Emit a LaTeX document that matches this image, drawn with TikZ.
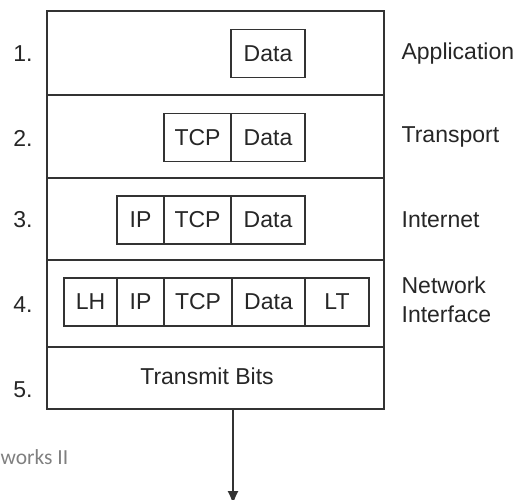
\documentclass[tikz,border=0pt]{standalone}
\usepackage{fontspec}
\setmainfont{Liberation Sans}
\newfontfamily\footfont{Carlito}
\usetikzlibrary{arrows.meta}

\begin{document}
\begin{tikzpicture}
  [x=1pt,y=-1pt,line width=1.2pt,draw=black!80,text=black!85,
   layer/.style={draw,rectangle,minimum width=337pt,inner sep=0pt},
   cell/.style={draw,rectangle,minimum height=48pt,inner sep=0pt,font=\fontsize{23}{27}\selectfont},
   num/.style={inner sep=0pt,font=\fontsize{23}{27}\selectfont},
   lbl/.style={anchor=west,align=left,inner sep=0pt,font=\fontsize{23}{29}\selectfont}]
  \useasboundingbox (0,0) rectangle (516,499);

  % layers of the stack
  \node[layer,minimum height=84pt] (app) at (215.5,53) {};
  \node[layer,minimum height=83pt] (trans) at (215.5,136.5) {};
  \node[layer,minimum height=82pt] (inet) at (215.5,219) {};
  \node[layer,minimum height=87pt] (netif) at (215.5,303.5) {};
  \node[layer,minimum height=62pt] (phys) at (215.5,378) {};
  \node[num] (bits) at (207,376) {Transmit Bits};

  % header / data cells
  \foreach \name/\x/\y/\w/\txt in {d1/268/53.5/74/Data,
      t2/197.5/137.5/67/TCP,d2/268/137.5/74/Data,
      i3/140.5/220/47/IP,t3/197.5/220/67/TCP,d3/268/220/74/Data,
      lh4/90.5/302/53/LH,i4/140.5/302/47/IP,t4/198/302/68/TCP,d4/268.5/302/73/Data,lt4/337/302/64/LT}
    \node[cell,minimum width=\w pt] (\name) at (\x,\y) {\txt};

  % numbers and layer names
  \foreach \n/\y in {1/54,2/138,3/220,4/305,5/390}
    \node[num] (n\n) at (23,\y) {\n.};
  \node[lbl] (lapp) at (401,54) {Application};
  \node[lbl] (ltrans) at (401,137) {Transport};
  \node[lbl] (linet) at (401,220) {Internet};
  \node[lbl] (lnetif) at (401,300) {Network\\Interface};

  \coordinate (out) at (233,409);
  \coordinate (wire) at (233,504);
  \draw[-{Latex[length=13pt,width=11pt]}] (out) -- (wire);

  \node[anchor=west,inner sep=0pt,text=black!50,font=\footfont\fontsize{21.5}{24}\selectfont] (foot) at (0,457) {works II};
\end{tikzpicture}
\end{document}
